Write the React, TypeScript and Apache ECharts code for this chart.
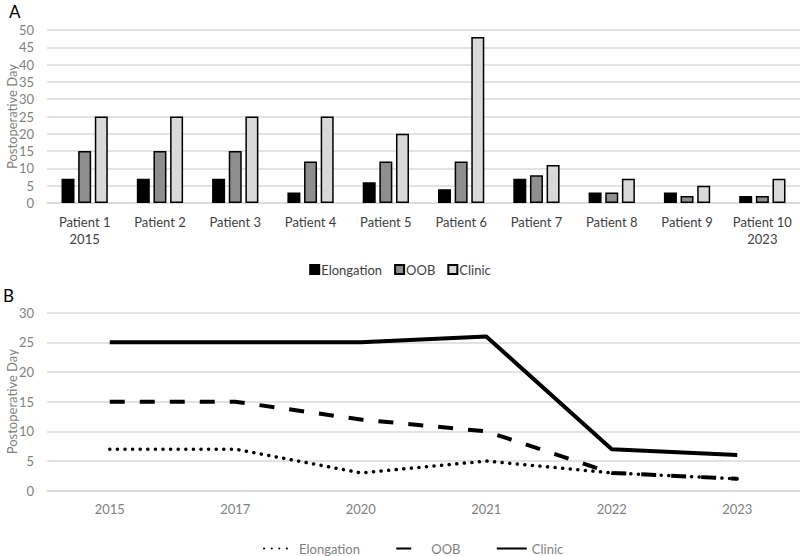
import React, { useEffect, useRef } from "react";
import * as echarts from "echarts";

// ---- Data ----
const patients = ["Patient 1", "Patient 2", "Patient 3", "Patient 4", "Patient 5", "Patient 6", "Patient 7", "Patient 8", "Patient 9", "Patient 10"];
const patientYears = ["2015", "", "", "", "", "", "", "", "", "2023"];
const barElongation = [7, 7, 7, 3, 6, 4, 7, 3, 3, 2];
const barOOB = [15, 15, 15, 12, 12, 12, 8, 3, 2, 2];
const barClinic = [25, 25, 25, 25, 20, 48, 11, 7, 5, 7];

const years = ["2015", "2017", "2020", "2021", "2022", "2023"];
const lineElongation = [7, 7, 3, 5, 3, 2];
const lineOOB = [15, 15, 12, 10, 3, 2];
const lineClinic = [25, 25, 25, 26, 7, 6];

const FONT = "Lato, 'Open Sans', sans-serif";

export default function App() {
  const ref = useRef<HTMLDivElement>(null);

  useEffect(() => {
    document.body.style.margin = "0";
    if (!ref.current) return;
    const chart = echarts.init(ref.current, undefined, { renderer: "svg" });
    const categories = patients.map((p, i) => (patientYears[i] ? p + "\n" + patientYears[i] : p));
    const gridColor = "#d9d9d9";
    const barBase = { type: "bar", xAxisIndex: 0, yAxisIndex: 0, barWidth: 13, barGap: "28%" };
    const lineBase = { type: "line", xAxisIndex: 1, yAxisIndex: 1, showSymbol: false, symbol: "none", smooth: false };

    chart.setOption({
      animation: false,
      textStyle: { fontFamily: FONT },
      graphic: [
        { type: "text", left: 9, top: 3, style: { text: "A", fontSize: 17, fill: "#000", fontFamily: FONT } },
        { type: "text", left: 3, top: 287, style: { text: "B", fontSize: 17, fill: "#000", fontFamily: FONT } },
      ],
      legend: [
        {
          data: ["Elongation", "OOB", "Clinic"].map((n) => ({ name: n })),
          left: "center",
          top: 258,
          icon: "rect",
          itemWidth: 9,
          itemHeight: 9,
          itemGap: 12,
          textStyle: { color: "#404040", fontSize: 13, fontFamily: FONT, padding: [0, 0, 0, -3] },
        },
        {
          data: ["Elongation ", "OOB ", "Clinic "],
          left: 258,
          top: 537,
          itemWidth: 30,
          itemHeight: 6,
          itemGap: 32,
          itemStyle: { opacity: 0 },
          textStyle: { color: "#7f7f7f", fontSize: 13, fontFamily: FONT },
        },
      ],
      grid: [
        { left: 47, right: 0, top: 30, height: 173, outerBoundsMode: "none", containLabel: false },
        { left: 47, right: 0, top: 312.7, height: 178, outerBoundsMode: "none", containLabel: false },
      ],
      xAxis: [
        {
          type: "category",
          gridIndex: 0,
          data: categories,
          axisLine: { lineStyle: { color: gridColor, width: 1.5 } },
          axisTick: { show: false },
          axisLabel: { color: "#404040", fontSize: 13, lineHeight: 17, margin: 10, fontFamily: FONT, interval: 0 },
        },
        {
          type: "category",
          gridIndex: 1,
          data: years,
          axisLine: { lineStyle: { color: gridColor, width: 1.5 } },
          axisTick: { show: false },
          axisLabel: { color: "#7f7f7f", fontSize: 13, margin: 12, fontFamily: FONT },
        },
      ],
      yAxis: [
        {
          type: "value",
          gridIndex: 0,
          min: 0,
          max: 50,
          interval: 5,
          name: "Postoperative Day",
          nameLocation: "middle",
          nameGap: 29,
          nameMoveOverlap: false,
          nameTextStyle: { color: "#7f7f7f", fontSize: 13, fontFamily: FONT },
          axisLine: { show: false },
          axisTick: { show: false },
          axisLabel: { color: "#7f7f7f", fontSize: 13, margin: 13, fontFamily: FONT },
          splitLine: { lineStyle: { color: gridColor, width: 1.5 } },
        },
        {
          type: "value",
          gridIndex: 1,
          min: 0,
          max: 30,
          interval: 5,
          name: "Postoperative Day",
          nameLocation: "middle",
          nameGap: 29,
          nameMoveOverlap: false,
          nameTextStyle: { color: "#7f7f7f", fontSize: 13, fontFamily: FONT },
          axisLine: { show: false },
          axisTick: { show: false },
          axisLabel: { color: "#7f7f7f", fontSize: 13, margin: 13, fontFamily: FONT },
          splitLine: { lineStyle: { color: gridColor, width: 1.5 } },
        },
      ],
      series: [
        { ...barBase, name: "Elongation", data: barElongation, itemStyle: { color: "#000000", borderColor: "#000", borderWidth: 1.5 } },
        { ...barBase, name: "OOB", data: barOOB, itemStyle: { color: "#8e8e8e", borderColor: "#000", borderWidth: 1.5 } },
        { ...barBase, name: "Clinic", data: barClinic, itemStyle: { color: "#d9d9d9", borderColor: "#000", borderWidth: 1.5 } },
        {
          ...lineBase,
          name: "Elongation ",
          data: lineElongation,
          z: 3,
          itemStyle: { color: "#000" },
          lineStyle: { color: "#000", width: 3.5, type: [0.1, 7.5], cap: "round" },
        },
        {
          ...lineBase,
          name: "OOB ",
          data: lineOOB,
          z: 2,
          itemStyle: { color: "#000" },
          lineStyle: { color: "#000", width: 4, type: [15, 15], cap: "butt" },
        },
        {
          ...lineBase,
          name: "Clinic ",
          data: lineClinic,
          z: 2,
          itemStyle: { color: "#000" },
          lineStyle: { color: "#000", width: 4 },
        },
      ],
    });
    return () => chart.dispose();
  }, []);

  return <div ref={ref} style={{ width: 800, height: 556, background: "#fff" }} />;
}
